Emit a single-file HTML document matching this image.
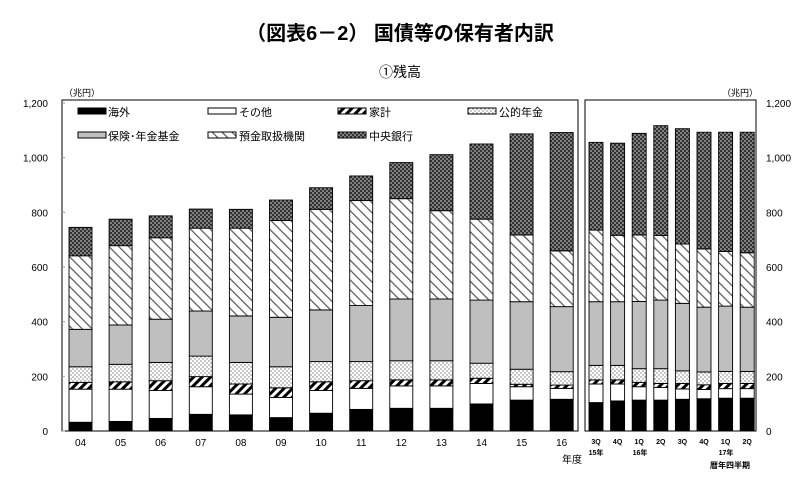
<!DOCTYPE html>
<html><head><meta charset="utf-8">
<style>
html,body{margin:0;padding:0;background:#fff;}
body{width:800px;height:478px;overflow:hidden;font-family:"Liberation Sans","Noto Sans CJK JP",sans-serif;}
svg text{font-family:"Liberation Sans","Noto Sans CJK JP",sans-serif;}
</style></head>
<body>
<svg id="chart" width="800" height="478" viewBox="0 0 800 478" xmlns="http://www.w3.org/2000/svg">
<defs>
<pattern id="p-hatch" width="6" height="6" patternUnits="userSpaceOnUse" patternTransform="rotate(45)">
<rect width="6" height="6" fill="#fff"/><rect width="3" height="6" fill="#000"/></pattern>
<pattern id="p-dots" width="4" height="4" patternUnits="userSpaceOnUse">
<rect width="4" height="4" fill="#fff"/><circle cx="1" cy="1" r="0.7" fill="#777"/><circle cx="3" cy="3" r="0.7" fill="#777"/></pattern>
<pattern id="p-diag" width="7" height="7" patternUnits="userSpaceOnUse" patternTransform="rotate(-45)">
<rect width="7" height="7" fill="#fff"/><rect width="1.2" height="7" fill="#555"/></pattern>
<pattern id="p-check" width="4" height="4" patternUnits="userSpaceOnUse">
<rect width="4" height="4" fill="#333"/><circle cx="1" cy="1" r="0.8" fill="#ddd"/><circle cx="3" cy="3" r="0.8" fill="#ddd"/></pattern>
</defs>
<text x="400" y="40" text-anchor="middle" font-size="20" font-weight="bold">（図表6－2） 国債等の保有者内訳</text>
<text x="400" y="77" text-anchor="middle" font-size="14">①残高</text>
<text x="64" y="96" font-size="9">（兆円）</text>
<text x="722" y="96" font-size="9">（兆円）</text>
<rect x="62" y="100" width="516" height="331" fill="none" stroke="#000" stroke-width="1"/>
<rect x="585" y="100" width="171" height="331" fill="none" stroke="#000" stroke-width="1"/>
<g id="bars"></g>
<g id="axes"></g>
<g font-size="11">
<rect x="78" y="108" width="28" height="6" fill="#000" stroke="#000"/>
<text x="108" y="116">海外</text>
<rect x="208" y="108" width="28" height="6" fill="#fff" stroke="#000"/>
<text x="239" y="116">その他</text>
<rect x="338" y="108" width="28" height="6" fill="url(#p-hatch)" stroke="#000"/>
<text x="369" y="116">家計</text>
<rect x="468" y="108" width="28" height="6" fill="url(#p-dots)" stroke="#000"/>
<text x="499" y="116">公的年金</text>
<rect x="78" y="132" width="28" height="6" fill="#bfbfbf" stroke="#000"/>
<text x="108" y="140">保険･年金基金</text>
<rect x="208" y="132" width="28" height="6" fill="url(#p-diag)" stroke="#000"/>
<text x="239" y="140">預金取扱機関</text>
<rect x="338" y="132" width="28" height="6" fill="url(#p-check)" stroke="#000"/>
<text x="369" y="140">中央銀行</text>
</g>
<text x="572" y="463" text-anchor="middle" font-size="10">年度</text>
<text x="730" y="468" text-anchor="middle" font-size="8" font-weight="bold">暦年四半期</text>
<text x="596" y="455" text-anchor="middle" font-size="7" font-weight="bold">15年</text>
<text x="640" y="455" text-anchor="middle" font-size="7" font-weight="bold">16年</text>
<text x="726" y="455" text-anchor="middle" font-size="7" font-weight="bold">17年</text>
</svg>
<script>
const categories = ["04","05","06","07","08","09","10","11","12","13","14","15","16","3Q","4Q","1Q","2Q","3Q","4Q","1Q","2Q"];
const overseas    = [32,35,46,61,59,49,65,79,83,83,99,113,116, 104,110,113,113,116,118,120,120];
const other       = [121,118,102,101,76,74,83,77,82,82,75,49,40, 68,62,49,46,38,34,35,35];
const household   = [25,27,36,37,37,35,32,28,22,22,19,9,12, 15,15,16,15,20,17,19,19];
const publicPension = [57,64,67,75,79,77,74,70,70,70,55,55,49, 53,53,50,54,46,47,44,44];
const insurance   = [137,144,158,165,170,181,189,205,226,226,231,247,238, 233,233,246,251,247,237,239,235];
const deposit     = [269,290,298,303,321,354,368,384,367,323,296,244,204, 262,243,243,236,217,213,200,199];
const centralBank = [104,97,80,70,69,75,79,90,132,205,275,370,433, 321,337,372,402,422,427,436,441];
const yTicks = [0,200,400,600,800,1000,1200];
const yTickLabels = ["0","200","400","600","800","1,000","1,200"];

const NS="http://www.w3.org/2000/svg";
const Y0=431, Y1=103, VMAX=1200;
function yScale(v){return Y0-(v/VMAX)*(Y0-Y1);}
function xCenter(i){return i<13 ? 80.5+i*40.1 : 596+(i-13)*21.6;}
function barWidth(i){return i<13 ? 23 : 14;}
const series=[
 {name:"overseas",data:overseas,fill:"#000"},
 {name:"other",data:other,fill:"#fff"},
 {name:"household",data:household,fill:"url(#p-hatch)"},
 {name:"public-pension",data:publicPension,fill:"url(#p-dots)"},
 {name:"insurance",data:insurance,fill:"#bfbfbf"},
 {name:"deposit",data:deposit,fill:"url(#p-diag)"},
 {name:"central-bank",data:centralBank,fill:"url(#p-check)"}
];
const bars=document.getElementById('bars');
categories.forEach((c,i)=>{
  let acc=0;
  const w=barWidth(i), x=xCenter(i)-w/2;
  series.forEach(s=>{
    const v=s.data[i];
    const r=document.createElementNS(NS,'rect');
    
    
    r.setAttribute('x',x);r.setAttribute('width',w);
    r.setAttribute('y',yScale(acc+v));r.setAttribute('height',yScale(acc)-yScale(acc+v));
    r.setAttribute('fill',s.fill);r.setAttribute('stroke','#000');r.setAttribute('stroke-width','0.9');
    bars.appendChild(r);
    acc+=v;
  });
  const t=document.createElementNS(NS,'text');
  
  
  t.setAttribute('x',xCenter(i));t.setAttribute('y',i<13?446:444);
  t.setAttribute('text-anchor','middle');
  t.setAttribute('font-size',i<13?'10':'7');
  if(i>=13)t.setAttribute('font-weight','bold');
  t.textContent=c;
  bars.appendChild(t);
});
const axes=document.getElementById('axes');
yTicks.forEach((v,k)=>{
  const y=yScale(v);
  const l=document.createElementNS(NS,'text');
  
  
  l.setAttribute('x',48);l.setAttribute('y',y+4);l.setAttribute('text-anchor','end');l.setAttribute('font-size','10');
  l.textContent=yTickLabels[k];axes.appendChild(l);
  const r=document.createElementNS(NS,'text');
  
  
  r.setAttribute('x',766);r.setAttribute('y',y+4);r.setAttribute('font-size','10');
  r.textContent=yTickLabels[k];axes.appendChild(r);
  const tk=document.createElementNS(NS,'line');
  
  
  tk.setAttribute('x1',62);tk.setAttribute('x2',65);tk.setAttribute('y1',y);tk.setAttribute('y2',y);tk.setAttribute('stroke','#999');
  axes.appendChild(tk);
});
</script>
</body></html>
